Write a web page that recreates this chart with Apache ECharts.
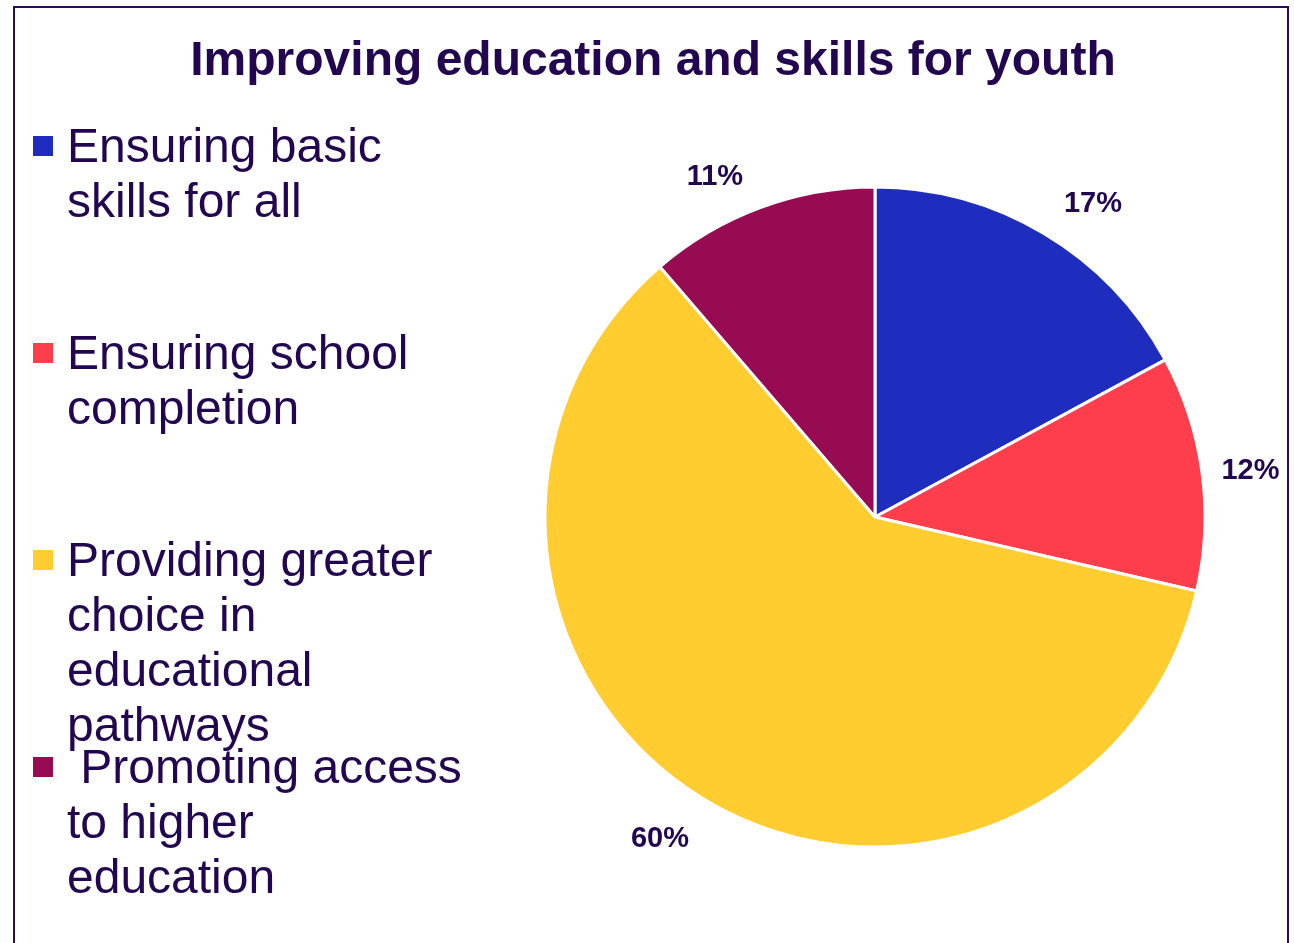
<!DOCTYPE html>
<html>
<head>
<meta charset="utf-8">
<script src="https://cdn.jsdelivr.net/npm/echarts@6/dist/echarts.min.js"></script>
<style>
html,body{margin:0;padding:0;background:#fff;}
#main{width:1294px;height:943px;}
</style>
</head>
<body>
<div id="main"></div>
<script>
const titleText = 'Improving education and skills for youth';
const categories = ['Ensuring basic skills for all', 'Ensuring school completion', 'Providing greater choice in educational pathways', 'Promoting access to higher education'];
const legendLines = ['Ensuring basic\nskills for all', 'Ensuring school\ncompletion', 'Providing greater\nchoice in\neducational\npathways', ' Promoting access\nto higher\neducation'];
const values = [17.1, 11.5, 60.1, 11.3];
const colors = ['#1F2DBE', '#FF3E4D', '#FFCD2F', '#960B52'];

const textColor = '#22064F';
const fontFam = '"Liberation Sans", Arial, sans-serif';

const chart = echarts.init(document.getElementById('main'), null, {renderer: 'canvas'});
const data = categories.map((c, i) => ({name: c, value: values[i], itemStyle: {color: colors[i]}}));

const graphics = [{
  type: 'rect', shape: {x: 14, y: 7, width: 1274, height: 960},
  style: {fill: 'none', stroke: '#2A0A5E', lineWidth: 2}, silent: true
}];
legendLines.forEach((t, i) => {
  const cy = 146 + 207 * i;
  graphics.push({type: 'rect', shape: {x: 33, y: cy - 10, width: 20, height: 20}, style: {fill: colors[i]}, silent: true});
  graphics.push({type: 'text', x: 67, y: cy - 24.5, style: {text: t, font: '48px ' + fontFam, fill: textColor, lineHeight: 55, verticalAlign: 'top', align: 'left'}, silent: true});
});

// label nudges (style only) to mimic the reference's outside-end placement
const nudges = [[22, 16], [-4, 6], [-17, -6], [-27, 19]];

chart.setOption({
  animation: false,
  backgroundColor: '#fff',
  title: {
    text: titleText, left: 648, top: 33, textAlign: 'center',
    textStyle: {fontFamily: fontFam, fontSize: 48, fontWeight: 'bold', color: textColor}
  },
  graphic: graphics,
  series: [{
    type: 'pie', center: [875, 517], radius: [0, 330], startAngle: 90, clockwise: true,
    data: data,
    itemStyle: {borderColor: '#fff', borderWidth: 3},
    label: {show: false}, labelLine: {show: false}, silent: true
  }, {
    type: 'pie', center: [875, 517], radius: [330, 430], startAngle: 90, clockwise: true,
    data: data.map((d, i) => ({name: d.name, value: d.value, label: {offset: nudges[i]}})),
    itemStyle: {color: 'rgba(0,0,0,0)'},
    label: {show: true, position: 'inside', formatter: p => Math.round(p.percent) + '%',
      fontFamily: fontFam, fontSize: 29, fontWeight: 'bold', color: textColor},
    labelLine: {show: false}, silent: true
  }]
});
</script>
</body>
</html>
